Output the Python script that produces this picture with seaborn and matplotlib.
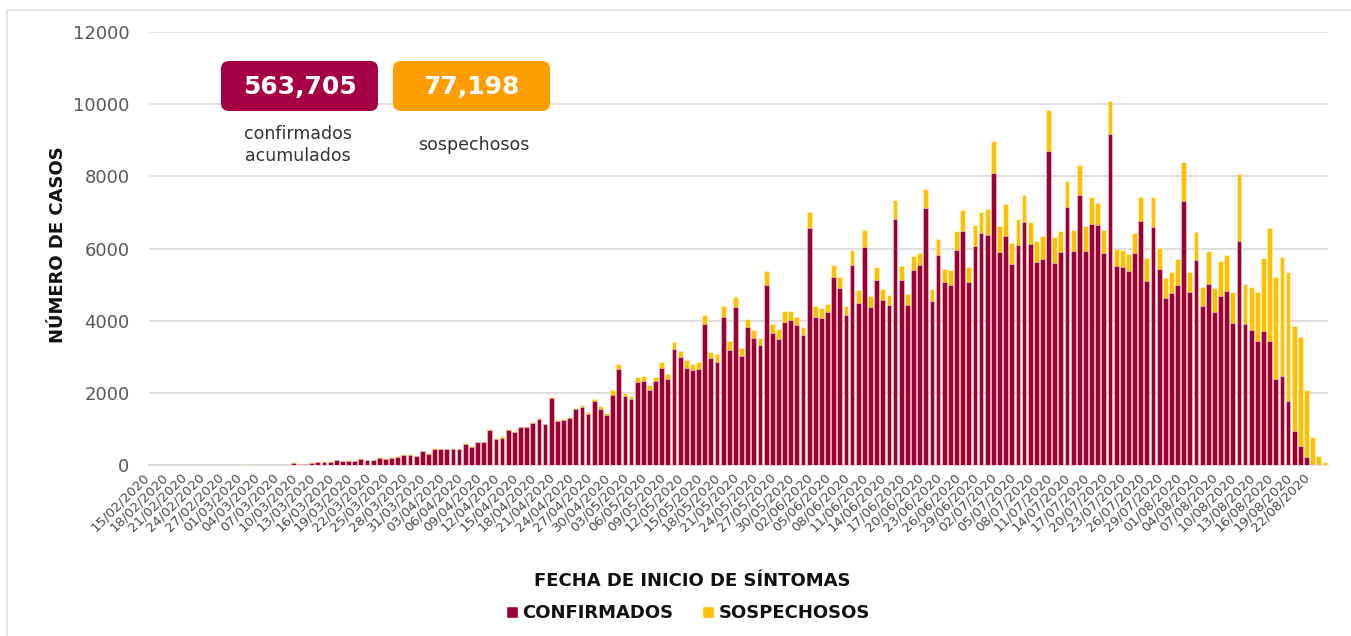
import matplotlib
matplotlib.use("Agg")
import matplotlib.pyplot as plt
import seaborn as sns
import pandas as pd
import numpy as np
from matplotlib.patches import FancyBboxPatch, Rectangle, Patch

sns.set_theme(style="white")
plt.rcParams['font.family'] = ['DejaVu Sans']

# Daily cases by symptom onset date, starting 15/02/2020
confirmados = [
    0, 0, 0, 0, 0, 0, 0, 0, 0, 0, 0, 0, 0, 0, 0, 0, 0, 0, 0, 0, 0, 0, 0,
    47, 20, 20, 55, 85, 75, 75, 130, 100, 110, 100, 175, 130, 130, 205, 175, 205, 230,
    270, 270, 240, 380, 305, 445, 430, 430, 455, 430, 575, 500, 625, 625, 965, 715,
    760, 965, 920, 1040, 1040, 1160, 1275,
    1125, 1843, 1207, 1253, 1300, 1548, 1613, 1419, 1770, 1548, 1382, 1935, 2654, 1908,
    1825, 2313, 2332, 2083, 2332, 2700, 2378, 3207, 2995, 2700, 2627, 2654, 3899, 2968,
    2848, 4101, 3198, 4369, 3023, 3825, 3512, 3318, 4986, 3659, 3484, 3972, 4028, 3880,
    3604, 6581, 4092, 4074, 4230, 5207, 4912, 4157, 5548, 4488, 6037, 4369, 5134, 4571,
    4424, 6829, 5115, 4424, 5410, 5530, 7124, 4550, 5830,
    5072, 4998, 5958, 6476, 5072, 6069, 6430, 6374, 8083, 5912, 6356, 5570, 6088, 6744,
    6134, 5617, 5709, 8702, 5589, 5912, 7150, 5931, 7483, 5931, 6679, 6651, 5885, 9164,
    5524, 5487, 5376, 5866, 6771, 5099, 6587, 5423, 4637, 4757, 4979, 7326, 4785, 5672,
    4416, 5025, 4240, 4684, 4822, 3935, 6208, 3908, 3751, 3446, 3723, 3427, 2393, 2467,
    1774, 942, 517, 231, 28, 0, 0,
]
sospechosos = [
    0, 0, 0, 0, 0, 0, 0, 0, 0, 0, 0, 0, 0, 0, 0, 40, 0, 0, 0, 0, 0, 0, 40,
    37, 0, 0, 20, 5, 25, 25, 20, 10, 20, 10, 20, 20, 20, 20, 20, 10, 20,
    30, 30, 20, 20, 20, 30, 20, 20, 20, 20, 25, 20, 20, 20, 30, 30,
    30, 30, 30, 20, 20, 30, 20,
    25, 47, 37, 28, 27, 28, 55, 46, 55, 74, 65, 130, 148, 101,
    83, 139, 147, 147, 120, 148, 157, 212, 176, 203, 175, 194, 267, 175,
    221, 314, 240, 295, 221, 230, 221, 212, 378, 240, 276, 304, 248, 221,
    230, 442, 304, 267, 240, 341, 295, 239, 397, 351, 479, 313, 341, 295,
    286, 517, 387, 313, 378, 359, 526, 340, 430,
    360, 406, 518, 582, 406, 573, 582, 721, 905, 712, 877, 582, 730, 739,
    591, 591, 637, 1127, 739, 564, 711, 573, 840, 693, 758, 601, 637, 924,
    453, 462, 462, 554, 666, 628, 850, 582, 536, 582, 730, 1071, 554, 776,
    508, 906, 656, 979, 989, 860, 1847, 1108, 1191, 1349, 2004, 3141, 2808, 3288,
    3565, 2901, 3021, 1857, 757, 240, 74,
]
fechas = pd.date_range("2020-02-15", periods=len(confirmados), freq="D").strftime("%d/%m/%Y").tolist()

total_confirmados = "563,705"
total_sospechosos = "77,198"

COL_CONF = "#9B0037"
COL_SOSP = "#FFC000"

df = pd.DataFrame({
    "fecha": fechas,
    "confirmados": confirmados,
    "total": np.array(confirmados) + np.array(sospechosos),
})

W, H = 1351, 636
fig = plt.figure(figsize=(W / 100, H / 100), dpi=100)
ax = fig.add_axes([149 / W, (H - 465) / H, 1179 / W, 433 / H])

sns.barplot(data=df, x="fecha", y="total", color=COL_SOSP, saturation=1, width=0.78,
            edgecolor="#FFF3D6", linewidth=0.4, errorbar=None, ax=ax, zorder=3)
sns.barplot(data=df, x="fecha", y="confirmados", color=COL_CONF, saturation=1, width=0.78,
            edgecolor="#F4D9E0", linewidth=0.4, errorbar=None, ax=ax, zorder=4)

ax.set_xlim(-0.5, len(fechas) - 0.5)
ax.set_ylim(0, 12000)
ax.set_yticks(range(0, 12001, 2000))
ax.set_yticklabels([str(v) for v in range(0, 12001, 2000)], fontsize=13, color="#595959")
ax.yaxis.grid(True, color="#D9D9D9", linewidth=1.2, zorder=0)
ax.set_axisbelow(True)
for s in ["top", "right", "left"]:
    ax.spines[s].set_visible(False)
ax.spines["bottom"].set_color("#D9D9D9")
ax.spines["bottom"].set_linewidth(1.2)
ax.tick_params(axis="y", length=0, pad=14)
ax.tick_params(axis="x", length=0, pad=4)

pos = list(range(0, len(fechas), 3))
ax.set_xticks(pos)
ax.set_xticklabels([fechas[p] for p in pos], rotation=45, ha="right", fontsize=9.5, color="#4A4A4A")
ax.set_xlabel("")
ax.set_ylabel("")

fig.text(58 / W, 1 - 245 / H, "NÚMERO DE CASOS", rotation=90, ha="center", va="center",
         fontsize=13, fontweight="bold", color="#111111")
fig.text(692 / W, 1 - 581 / H, "FECHA DE INICIO DE SÍNTOMAS", ha="center", va="center",
         fontsize=13, fontweight="bold", color="#111111")

handles = [Patch(facecolor=COL_CONF, label="CONFIRMADOS"), Patch(facecolor=COL_SOSP, label="SOSPECHOSOS")]
fig.legend(handles=handles, loc="center", bbox_to_anchor=(688 / W, 1 - 613 / H), ncol=2, frameon=False,
           prop={"weight": "bold", "size": 13}, handlelength=0.65, handleheight=0.65, handletextpad=0.25,
           columnspacing=1.6, labelcolor="#111111")

# summary boxes
for x0, col, txt in [(221, "#A50046", total_confirmados), (393, "#FF9E00", total_sospechosos)]:
    box = FancyBboxPatch((x0 / 100, (H - 111) / 100), 1.57, 0.50,
                         boxstyle="round,pad=0,rounding_size=0.08",
                         transform=fig.dpi_scale_trans, facecolor=col, edgecolor="none")
    fig.add_artist(box)
    fig.text((x0 + 78.5) / W, 1 - 87 / H, txt, ha="center", va="center", fontsize=18,
             fontweight="bold", color="white")

fig.text(298 / W, 1 - 145 / H, "confirmados\nacumulados", ha="center", va="center", fontsize=12.5,
         color="#333333", linespacing=1.35)
fig.text(474 / W, 1 - 145 / H, "sospechosos", ha="center", va="center", fontsize=12.5, color="#333333")

border = Rectangle((0.07, -0.2), 14.0, 6.26 + 0.2, transform=fig.dpi_scale_trans, fill=False,
                   edgecolor="#E0E0E0", linewidth=1.2)
fig.add_artist(border)

fig.savefig("out.png", dpi=100)
